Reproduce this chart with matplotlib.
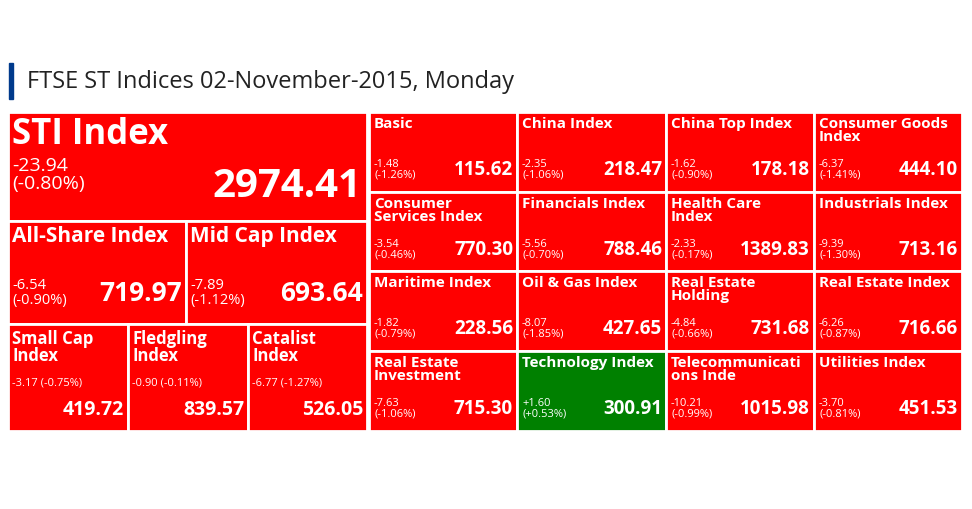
import matplotlib
matplotlib.use("Agg")
import matplotlib.pyplot as plt
from matplotlib.patches import Rectangle

plt.rcParams['font.family'] = ['Open Sans', 'DejaVu Sans']

title = "FTSE ST Indices 02-November-2015, Monday"

big_names = ["STI Index", "All-Share Index", "Mid Cap Index", "Small Cap\nIndex", "Fledgling\nIndex", "Catalist\nIndex"]
big_values = [2974.41, 719.97, 693.64, 419.72, 839.57, 526.05]
big_changes = [-23.94, -6.54, -7.89, -3.17, -0.90, -6.77]
big_pcts = [-0.80, -0.90, -1.12, -0.75, -0.11, -1.27]

grid_names = ["Basic", "China Index", "China Top Index", "Consumer Goods\nIndex",
              "Consumer\nServices Index", "Financials Index", "Health Care\nIndex", "Industrials Index",
              "Maritime Index", "Oil & Gas Index", "Real Estate\nHolding", "Real Estate Index",
              "Real Estate\nInvestment", "Technology Index", "Telecommunicati\nons Inde", "Utilities Index"]
grid_values = [115.62, 218.47, 178.18, 444.10, 770.30, 788.46, 1389.83, 713.16,
               228.56, 427.65, 731.68, 716.66, 715.30, 300.91, 1015.98, 451.53]
grid_changes = [-1.48, -2.35, -1.62, -6.37, -3.54, -5.56, -2.33, -9.39,
                -1.82, -8.07, -4.84, -6.26, -7.63, 1.60, -10.21, -3.70]
grid_pcts = [-1.26, -1.06, -0.90, -1.41, -0.46, -0.70, -0.17, -1.30,
             -0.79, -1.85, -0.66, -0.87, -1.06, 0.53, -0.99, -0.81]

RED, GREEN = "#ff0000", "#008000"
W, H = 972, 510
fig = plt.figure(figsize=(W/100, H/100), dpi=100)
ax = fig.add_axes([0, 0, 1, 1])
ax.set_xlim(0, W); ax.set_ylim(H, 0); ax.axis('off')

ax.add_patch(Rectangle((9, 64), 4, 36, color="#003a8c"))
ax.text(27, 82, title, fontsize=17, color="#222222", va='center', ha='left')

def col(c):
    return GREEN if c > 0 else RED

def fmt(c):
    return f"{c:+.2f}"

# big tiles: (x0, y0, x1, y1)
big_boxes = [(8, 113, 367, 222), (8, 222, 186, 325), (186, 222, 367, 325),
             (8, 325, 128, 432), (128, 325, 248, 432), (248, 325, 367, 432)]
for i, (x0, y0, x1, y1) in enumerate(big_boxes):
    ax.add_patch(Rectangle((x0, y0), x1-x0, y1-y0, facecolor=col(big_changes[i]), edgecolor='white', lw=2))
    v = f"{big_values[i]:.2f}"
    ch = fmt(big_changes[i]); pc = f"({fmt(big_pcts[i])}%)"
    if i == 0:
        ax.text(x0+4, y0+4, big_names[i], fontsize=25, fontweight='bold', color='white', va='top')
        ax.text(x0+4, y0+62, ch + "\n" + pc, fontsize=14, color='white', va='center', linespacing=0.95)
        ax.text(x1-6, y0+74, v, fontsize=29, fontweight='bold', color='white', va='center', ha='right')
    elif i < 3:
        ax.text(x0+4, y0+4, big_names[i], fontsize=15, fontweight='bold', color='white', va='top')
        ax.text(x0+4, y0+71, ch + "\n" + pc, fontsize=10.5, color='white', va='center', linespacing=1.0)
        ax.text(x1-4, y0+72, v, fontsize=19, fontweight='bold', color='white', va='center', ha='right')
    else:
        ax.text(x0+4, y0+5, big_names[i], fontsize=12, fontweight='bold', color='white', va='top', linespacing=0.95)
        ax.text(x0+4, y0+58, ch + " " + pc, fontsize=8, color='white', va='center')
        ax.text(x1-4, y0+85, v, fontsize=14, fontweight='bold', color='white', va='center', ha='right')

# grid tiles
xs = [369, 517, 666, 814, 962]
ys = [113, 193, 272, 352, 432]
for k in range(16):
    r, c = divmod(k, 4)
    x0, x1, y0, y1 = xs[c], xs[c+1], ys[r], ys[r+1]
    ax.add_patch(Rectangle((x0, y0), x1-x0, y1-y0, facecolor=col(grid_changes[k]), edgecolor='white', lw=2))
    ax.text(x0+5, y0+4, grid_names[k], fontsize=11, fontweight='bold', color='white', va='top', linespacing=0.95)
    ax.text(x0+5, y0+57, fmt(grid_changes[k]) + "\n(" + fmt(grid_pcts[k]) + "%)", fontsize=8, color='white',
            va='center', linespacing=0.95)
    ax.text(x1-4, y0+57, f"{grid_values[k]:.2f}", fontsize=13.5, fontweight='bold', color='white',
            va='center', ha='right')

fig.savefig("out.png", dpi=100, facecolor='white')
